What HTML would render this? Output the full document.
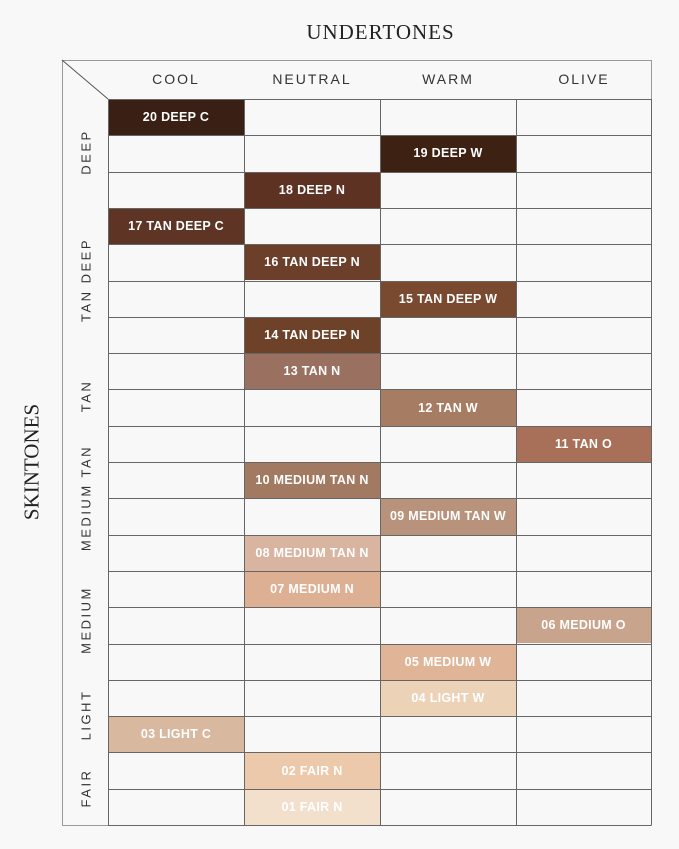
<!DOCTYPE html><html><head><style>
body{margin:0;width:679px;height:849px;background:#f8f8f8;position:relative;overflow:hidden;font-family:"Liberation Sans",sans-serif}
.a{position:absolute}
.h{font-size:14px;letter-spacing:2px;color:#333;text-align:center;width:136px;top:71px}
.s{font-size:13px;letter-spacing:2.5px;color:#333;transform:translate(-50%,-50%) rotate(-90deg);white-space:nowrap;left:86px}
.c{font-weight:bold;font-size:12.5px;letter-spacing:0.3px;display:flex;align-items:center;justify-content:center;color:#fff}
</style></head><body>
<div class="a" style="left:0;top:20px;width:679px;text-align:center;font-family:'Liberation Serif',serif;font-size:21px;letter-spacing:1px;color:#222;padding-left:82px;box-sizing:border-box">UNDERTONES</div>
<div class="a" style="left:32px;top:462px;transform:translate(-50%,-50%) rotate(-90deg);font-family:'Liberation Serif',serif;font-size:21px;color:#222;white-space:nowrap">SKINTONES</div>
<div class="a" style="left:62px;top:60px;width:588px;height:764px;border:1px solid #999"></div>
<svg class="a" style="left:0;top:0" width="679" height="849"><line x1="62" y1="60" x2="108" y2="99" stroke="#555" stroke-width="1"/></svg>
<div class="a h" style="left:108px">COOL</div>
<div class="a h" style="left:244px">NEUTRAL</div>
<div class="a h" style="left:380px">WARM</div>
<div class="a h" style="left:516px">OLIVE</div>
<div class="a s" style="top:152px">DEEP</div>
<div class="a s" style="top:280px">TAN DEEP</div>
<div class="a s" style="top:396px">TAN</div>
<div class="a s" style="top:498px">MEDIUM TAN</div>
<div class="a s" style="top:620px">MEDIUM</div>
<div class="a s" style="top:715px">LIGHT</div>
<div class="a s" style="top:788px">FAIR</div>
<div id="g"></div>
<script>
var xs=[108,244,380,516,651],top0=99,rh=(825-99)/20,g='';
var d=[["20 DEEP C",0,0,"#3a1f14"],["19 DEEP W",1,2,"#3d2214"],["18 DEEP N",2,1,"#5e3222"],["17 TAN DEEP C",3,0,"#5e3524"],["16 TAN DEEP N",4,1,"#6b3f2a"],["15 TAN DEEP W",5,2,"#7a4a30"],["14 TAN DEEP N",6,1,"#6e4228"],["13 TAN N",7,1,"#9a7060"],["12 TAN W",8,2,"#a67c62"],["11 TAN O",9,3,"#a87058"],["10 MEDIUM TAN N",10,1,"#a27a62"],["09 MEDIUM TAN W",11,2,"#b8927a"],["08 MEDIUM TAN N",12,1,"#d9b4a0"],["07 MEDIUM N",13,1,"#ddb094"],["06 MEDIUM O",14,3,"#c8a48c"],["05 MEDIUM W",15,2,"#e0b496"],["04 LIGHT W",16,2,"#ecd3b8"],["03 LIGHT C",17,0,"#d9b8a0"],["02 FAIR N",18,1,"#ecc9aa"],["01 FAIR N",19,1,"#f2e0cc"]];
d.forEach(function(e){var y=top0+e[1]*rh;g+='<div class="a c" style="left:'+xs[e[2]]+'px;top:'+y+'px;width:'+(xs[e[2]+1]-xs[e[2]])+'px;height:'+rh+'px;background:'+e[3]+'">'+e[0]+'</div>';});
for(var i=0;i<=20;i++){g+='<div class="a" style="left:108px;top:'+Math.round(top0+i*rh)+'px;width:543px;height:1px;background:#666"></div>';}
xs.forEach(function(x){g+='<div class="a" style="left:'+x+'px;top:99px;width:1px;height:726px;background:#666"></div>';});
document.getElementById('g').innerHTML=g;
</script>
</body></html>
